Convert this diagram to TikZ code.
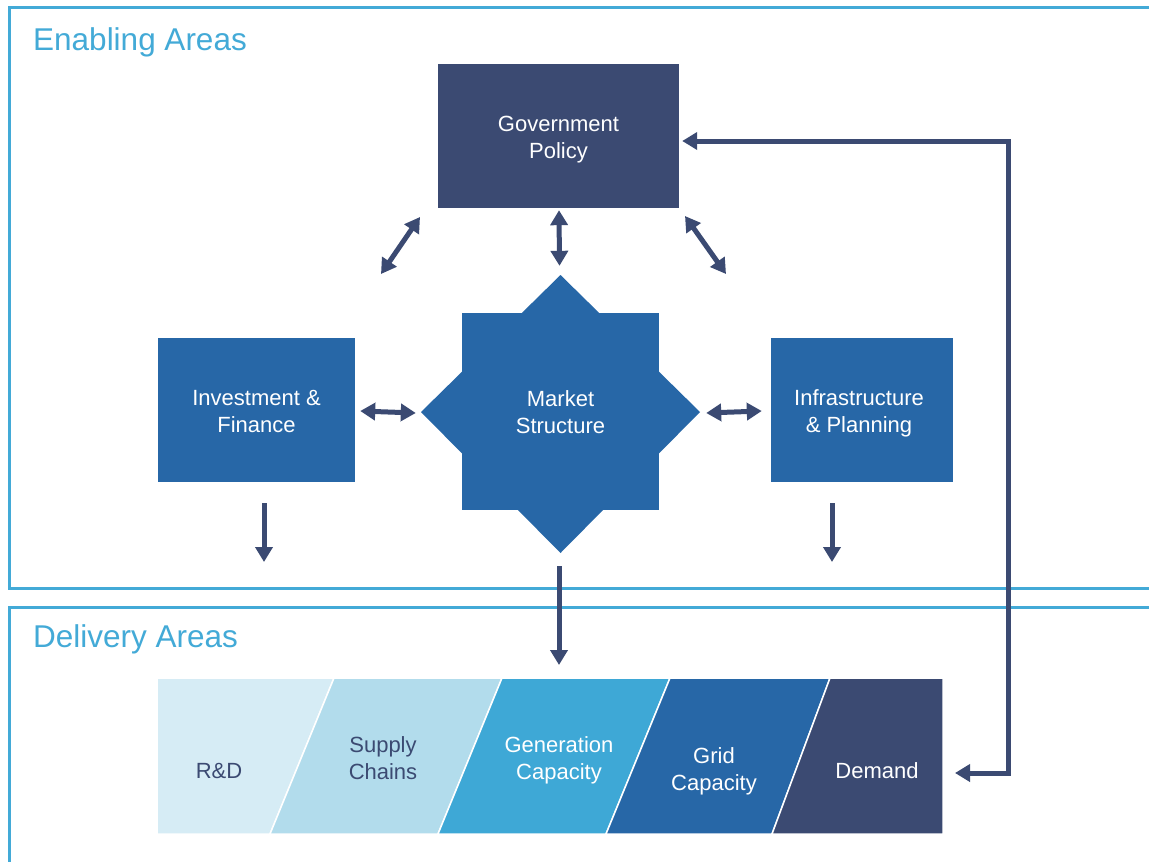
\documentclass[tikz,border=0pt]{standalone}
\usepackage{fontspec}
\setmainfont{Liberation Sans}
\usetikzlibrary{arrows.meta,calc}
\definecolor{navy}{HTML}{3B4A72}
\definecolor{midblue}{HTML}{2767A7}
\definecolor{frameblue}{HTML}{43AAD7}
\definecolor{rdcol}{HTML}{D6ECF5}
\definecolor{supcol}{HTML}{B2DCEC}
\definecolor{gencol}{HTML}{3EA8D6}
\begin{document}
\begin{tikzpicture}[x=1pt,y=-1pt,
  lbl/.style={align=center, inner sep=0pt, font=\fontsize{22}{27}\selectfont},
  box/.style={fill=#1, inner sep=0pt},
  frame/.style={draw=frameblue, line width=3pt},
  title/.style={text=frameblue, font=\fontsize{31.5}{36}\selectfont, anchor=base west, inner sep=0pt},
  arr/.style={draw=navy, line width=5pt, {Triangle[width=17pt,length=15pt]}-{Triangle[width=17pt,length=15pt]}},
  arrd/.style={draw=navy, line width=5pt, -{Triangle[width=17pt,length=15pt]}},
  seg/.style={fill=#1, draw=white, line width=1.5pt}
]
\useasboundingbox (0,0) rectangle (1149,862);
\fill[white] (0,0) rectangle (1149,862);

% frames
\draw[frame] (1170,7) -- (9,7) -- (9,588) -- (1170,588);
\draw[frame] (1170,607) -- (9,607) -- (9,880);
\node[title] (tEn) at (33,50) {Enabling Areas};
\node[title] (tDe) at (33,647) {Delivery Areas};

% boxes
\node[box=navy, minimum width=241pt, minimum height=144pt] (gov) at (558.5,136) {};
\node[lbl, text=white] (govT) at (558.5,140) {Government\\Policy};
\node[box=midblue, minimum width=197pt, minimum height=144pt] (inv) at (256.5,410) {};
\node[lbl, text=white] (invT) at (256.5,411) {Investment \&\\Finance};
\node[box=midblue, minimum width=182pt, minimum height=144pt] (inf) at (862,410) {};
\node[lbl, text=white] (infT) at (859,413) {Infrastructure\\\& Planning};

% star
\fill[midblue] (462,313) rectangle (659,510);
\fill[midblue] (560.5,275) -- (700,412) -- (560.5,553) -- (421,412) -- cycle;
\node[lbl, text=white, minimum width=279pt, minimum height=278pt] (ms) at (560.5,412) {Market\\Structure};

% delivery bar
\fill[seg=rdcol] (157,678) -- (334,678) -- (270,834) -- (157,834) -- cycle;
\fill[seg=supcol] (334,678) -- (502,678) -- (438,834) -- (270,834) -- cycle;
\fill[seg=gencol] (502,678) -- (670,678) -- (606,834) -- (438,834) -- cycle;
\fill[seg=midblue] (670,678) -- (830,678) -- (772,834) -- (606,834) -- cycle;
\fill[seg=navy] (830,678) -- (943,678) -- (943,834) -- (772,834) -- cycle;
\node[lbl, text=navy] (rd) at (219,771) {R\&D};
\node[lbl, text=navy] (sup) at (383,758) {Supply\\Chains};
\node[lbl, text=white] (gen) at (559,760) {Generation\\Capacity};
\node[lbl, text=white] (grid) at (714,771) {Grid\\Capacity};
\node[lbl, text=white] (dem) at (877,771) {Demand};
\coordinate (barE) at (943,773);
\coordinate (barT) at (559,678);

% connectors
\coordinate (dlA) at (420,217);
\coordinate (dlB) at (381,274);
\coordinate (drA) at (685,216);
\coordinate (drB) at (726,274);
\draw[arr] (dlA) -- (dlB);
\draw[arr] (drA) -- (drB);
\draw[arr] ($(gov.south)+(0.5,2)$) -- ($(ms.north)+(-1,-7)$);
\draw[arr] ($(inv.east)+(5,1)$) -- ($(ms.west)+(-5,1)$);
\draw[arr] ($(ms.east)+(6,1)$) -- ($(inf.west)+(-9,1)$);
\coordinate (dInv) at (264,503);
\coordinate (dInf) at (832,503);
\draw[arrd] (dInv) -- ++(0,59);
\draw[arrd] (dInf) -- ++(0,59);
\draw[arrd] ($(ms.south)+(-1.5,15)$) -- ($(barT)+(0,-13)$);
\coordinate (fbC) at (1008,773);
\draw[arr, line join=miter] ($(barE)+(12,0)$) -- (fbC) -- (fbC |- 0,141) -- ($(gov.east |- 0,141)+(3,0)$);
\end{tikzpicture}
\end{document}
